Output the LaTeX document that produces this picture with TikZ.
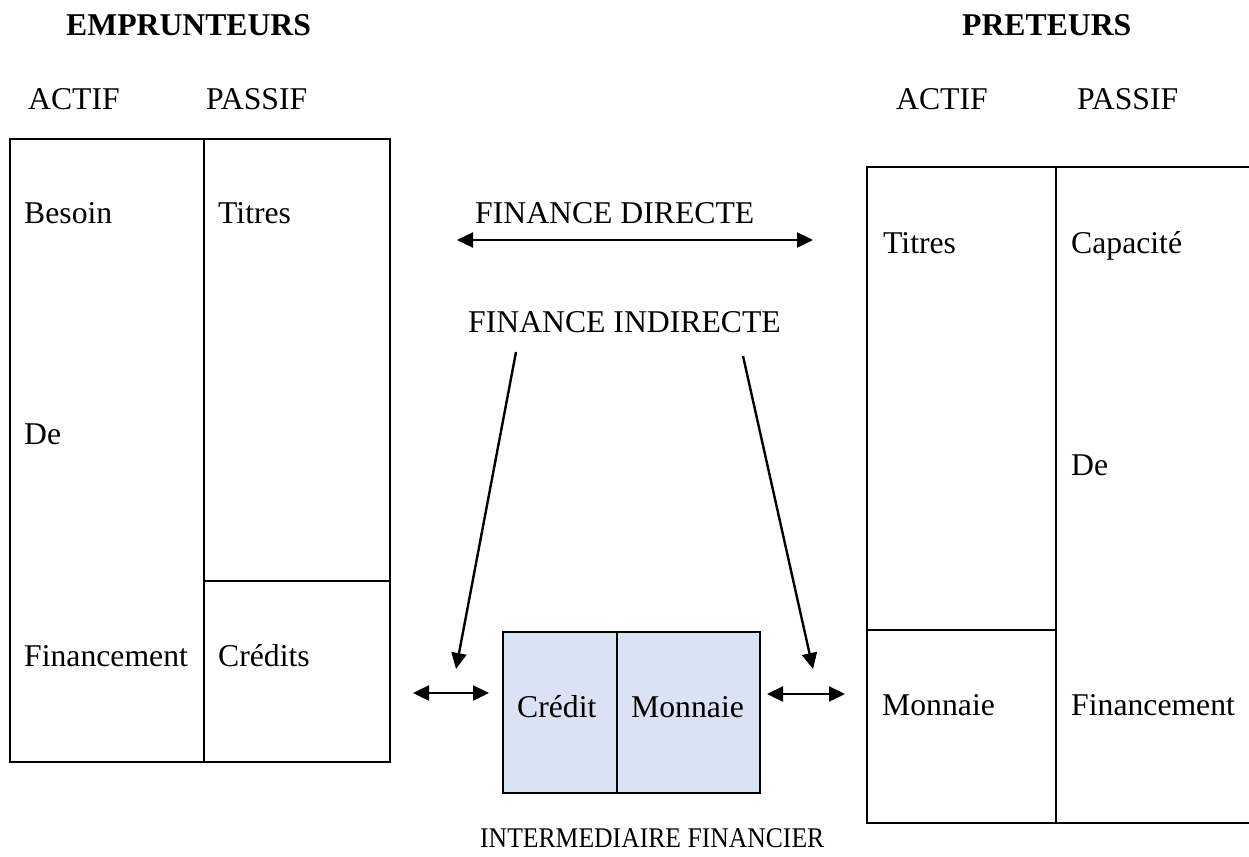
\documentclass[tikz,border=0pt]{standalone}
\usepackage{fontspec}
\usepackage{graphicx}
\setmainfont{Liberation Serif}
\usetikzlibrary{arrows.meta}
\definecolor{cellblue}{HTML}{DAE3F3}
\tikzset{
  txt/.style={anchor=base west, inner sep=0pt, font=\fontsize{31.7pt}{38pt}\selectfont},
  stxt/.style={anchor=base west, inner sep=0pt, font=\fontsize{28.5pt}{34pt}\selectfont},
  btxt/.style={txt, font=\fontsize{31.7pt}{38pt}\selectfont\bfseries},
  frame/.style={line width=2.4pt, line cap=rect},
  cell/.style={draw, line width=2.4pt, fill=cellblue, anchor=north west, inner sep=0pt, minimum height=161pt},
  arr/.style={line width=2.4pt, -{Triangle[length=16pt, width=15pt]}},
  darr/.style={line width=2.4pt, {Triangle[length=16pt, width=15pt]}-{Triangle[length=16pt, width=15pt]}}
}
\begin{document}
\begin{tikzpicture}[x=1pt, y=-1pt]
\useasboundingbox (0,0) rectangle (1249,856);
% headers
\node[btxt] (emp) at (66,36) {EMPRUNTEURS};
\node[btxt] (pre) at (962,36) {PRETEURS};
\node[txt] (actL) at (28,110) {ACTIF};
\node[txt] (pasL) at (206,110) {PASSIF};
\node[txt] (actR) at (896,110) {ACTIF};
\node[txt] (pasR) at (1077,110) {PASSIF};
% left balance sheet
\draw[frame] (10,139) rectangle (390,762);
\draw[frame] (204,139) -- (204,762);
\draw[frame] (204,581) -- (390,581);
\node[txt] (besoin) at (24,223) {Besoin};
\node[txt] (titresL) at (218,223) {Titres};
\node[txt] (deL) at (24,444) {De};
\node[txt] (finL) at (24,666) {Financement};
\node[txt] (credits) at (218,666) {Crédits};
% right balance sheet
\draw[frame] (1260,167) -- (867,167) -- (867,823) -- (1260,823);
\draw[frame] (1056,167) -- (1056,823);
\draw[frame] (867,630) -- (1056,630);
\node[txt] (titresR) at (883,253) {Titres};
\node[txt] (capa) at (1071,253) {Capacité};
\node[txt] (deR) at (1071,475) {De};
\node[txt] (monR) at (882,715) {Monnaie};
\node[txt] (finR) at (1071,715) {Financement};
% intermediary
\node[cell, minimum width=114pt] (c1) at (502,631) {};
\node[cell, minimum width=143pt] (c2) at (616,631) {};
\node[txt] (credit) at (517,717) {Crédit};
\node[txt] (monnaie) at (631,717) {Monnaie};
\node[stxt] (inter) at (480,847) {\scalebox{0.9}[1]{INTERMEDIAIRE FINANCIER}};
% middle labels
\node[txt] (fd) at (475,223) {FINANCE DIRECTE};
\node[txt] (fi) at (468,332) {FINANCE INDIRECTE};
% arrow end points
\coordinate (fdL) at (457,240);
\coordinate (fdR) at (813,240);
\coordinate (fiL) at (516,352);
\coordinate (fiR) at (743,356);
\coordinate (tipL) at (456,669);
\coordinate (tipR) at (813,669);
\coordinate (sLa) at (413,693);
\coordinate (sLb) at (489,693);
\coordinate (sRa) at (767,694);
\coordinate (sRb) at (845,694);
% arrows
\draw[darr] (fdL) -- (fdR);
\draw[arr] (fiL) -- (tipL);
\draw[arr] (fiR) -- (tipR);
\draw[darr] (sLa) -- (sLb);
\draw[darr] (sRa) -- (sRb);
\end{tikzpicture}
\end{document}
